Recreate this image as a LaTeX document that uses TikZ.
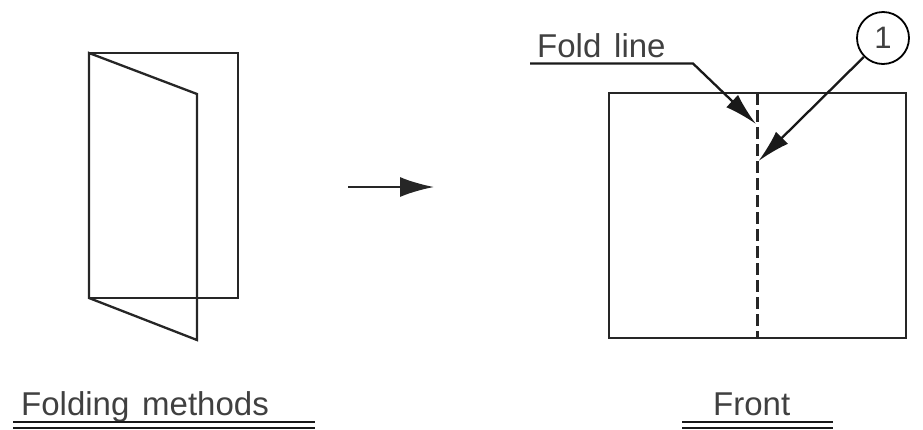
\documentclass[tikz,border=0pt]{standalone}
\usepackage{fontspec}
\setmainfont[WordSpace=1.4]{Liberation Sans}
\usetikzlibrary{arrows.meta}
\tikzset{
  lbl/.style={inner sep=0pt,anchor=base west,text=black!75,font=\fontsize{33}{36}\selectfont},
  ln/.style={line width=2.3pt,black!85},
  lead/.style={line width=2.3pt,black!90,-{Latex[length=33pt,width=17pt]},shorten >=0pt},
  under/.style={line width=2.2pt,black!90}
}
\begin{document}
\begin{tikzpicture}[x=1pt,y=-1pt]
\useasboundingbox (0,0) rectangle (923,429);
% folded sheet
\draw[ln] (89,53) rectangle (238,298);
\draw[ln] (89,53) -- (197,94) -- (197,340) -- (89,298) -- cycle;
% central arrow
\coordinate (as) at (348,187);
\coordinate (ae) at (434,187);
\draw[ln,-{Latex[length=34pt,width=20pt]}] (as) -- (ae);
% front sheet
\draw[ln] (609,93) rectangle (906,338);
\coordinate (ft) at (757.5,93);
\coordinate (fb) at (757.5,338);
\draw[ln,dash pattern=on 12pt off 5pt] (ft) -- (fb);
% labels
\node[lbl] (fold) at (537,57) {Fold line};
\node[lbl] (meth) at (21,415) {Folding methods};
\node[lbl] (front) at (713,415) {Front};
\node[circle,draw,line width=1.8pt,minimum size=52pt,inner sep=0pt,text=black!75,font=\fontsize{31}{34}\selectfont] (one) at (883,38) {1};
% leaders
\coordinate (l0) at (530,63.5);
\coordinate (l1) at (693,63.5);
\coordinate (t1) at (756,124);
\coordinate (t2) at (758.5,161);
\draw[lead] (l0) -- (l1) -- (t1);
\draw[lead] (one) -- (t2);
% double underlines
\coordinate (a1) at (13,422); \coordinate (a2) at (315,422);
\coordinate (a3) at (13,428); \coordinate (a4) at (315,428);
\coordinate (b1) at (682,422); \coordinate (b2) at (833,422);
\coordinate (b3) at (682,428); \coordinate (b4) at (833,428);
\draw[under] (a1) -- (a2); \draw[under] (a3) -- (a4);
\draw[under] (b1) -- (b2); \draw[under] (b3) -- (b4);
\end{tikzpicture}
\end{document}
